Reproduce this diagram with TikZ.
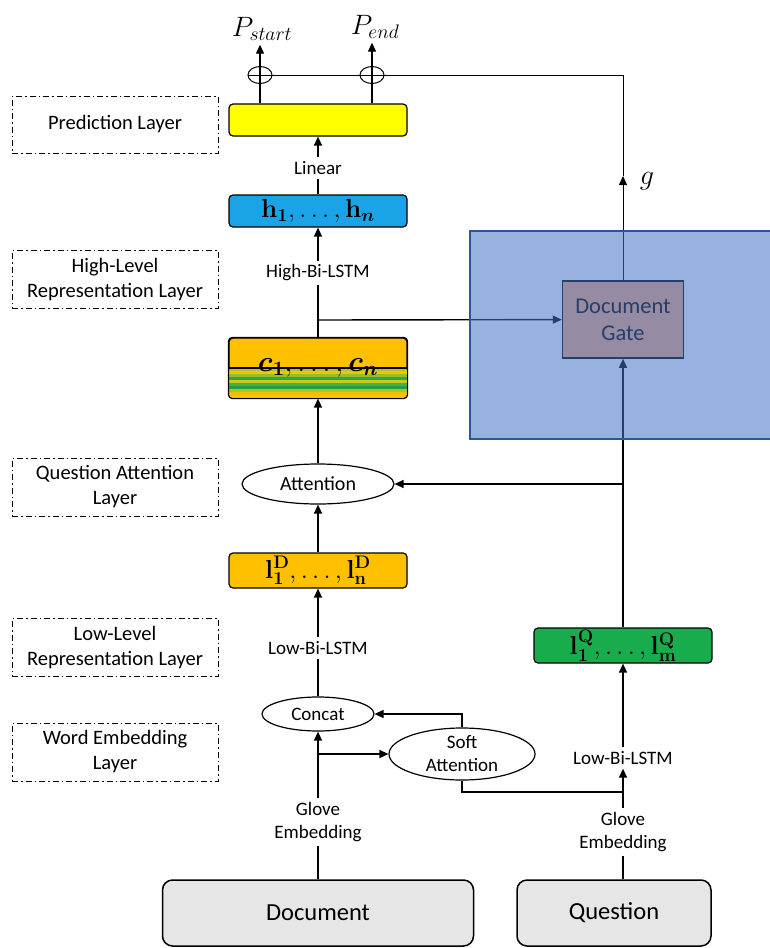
\documentclass[tikz,border=0pt]{standalone}
\usepackage{fix-cm}
\usepackage[no-math]{fontspec}
\setmainfont{Carlito}
\usepackage{amsmath}
\usepackage{tikz}
\usetikzlibrary{
    arrows.meta,
    shapes,
    calc,
    positioning
}
\DeclareMathAlphabet{\mathbfit}{OML}{cmm}{b}{it}
\definecolor{predyellow}{RGB}{255,255,0}
\definecolor{hblue}{RGB}{27,163,232}
\definecolor{lorange}{RGB}{255,192,0}
\definecolor{qgreen}{RGB}{24,172,76}
\definecolor{srcgray}{RGB}{231,230,230}
\definecolor{gateorange}{RGB}{249,171,122}
\definecolor{overlayblue}{RGB}{68,114,196}
\definecolor{overlayline}{RGB}{47,85,151}
\definecolor{sA}{RGB}{196,188,40}
\definecolor{sB}{RGB}{236,200,0}
\definecolor{sC}{RGB}{150,190,40}
\definecolor{sD}{RGB}{40,170,70}
\definecolor{sE}{RGB}{205,200,30}
\definecolor{sF}{RGB}{70,178,60}
\definecolor{sG}{RGB}{30,160,70}
\definecolor{sH}{RGB}{170,195,40}
\definecolor{sI}{RGB}{240,192,0}
\definecolor{sJ}{RGB}{255,192,0}

\begin{document}
\begin{tikzpicture}[x=1pt, y=-1pt, line width=1.4pt,
    >={Triangle[length=9pt,width=8pt]},
    every node/.style={font=\fontsize{19}{23}\selectfont, align=center},
    layer/.style={draw, line width=0.8pt, dash pattern=on 6pt off 3pt on 1.5pt off 3pt,
        minimum width=206, minimum height=58, font=\fontsize{20.5}{25}\selectfont},
    block/.style={draw, rounded corners=4, minimum width=178, line width=1.2pt,
        inner sep=0pt, font=\fontsize{26}{30}\selectfont},
    oval/.style={draw, ellipse, line width=1.2pt, inner sep=0pt},
    oplus/.style={draw, ellipse, minimum width=24, minimum height=17, line width=1pt, inner sep=0pt},
    source/.style={draw, rounded corners=10, fill=srcgray, minimum height=66, line width=1.5pt,
        font=\fontsize{24.5}{28}\selectfont},
    mathlbl/.style={font=\fontsize{28}{30}\selectfont}]
        \useasboundingbox (0,0) rectangle (769,948);
        % layer names
        \node[layer, minimum height=57] (predlay) at (115,124.5) {Prediction Layer};
        \node[layer] (highlay) at (115,279.5) {High-Level\\Representation Layer};
        \node[layer] (attlay) at (115,487) {Question Attention\\Layer};
        \node[layer] (lowlay) at (115,647.5) {Low-Level\\Representation Layer};
        \node[layer] (emblay) at (115,752) {Word Embedding\\Layer};
        % document column
        \node[block, fill=predyellow, minimum height=32] (pred) at (318,120) {};
        \node[block, fill=hblue, minimum height=32] (hid) at (318,211) {$\mathbf{h}_{\mathbf{1}}, \ldots, \mathbf{h}_{\mathbfit{n}}$};
        \node[block, fill=lorange, minimum height=60] (ctx) at (318,368) {};
        \begin{scope}
            \clip[rounded corners=4] (ctx.south west) rectangle (ctx.east);
            \foreach \col [count=\k from 0] in {sA,sB,sC,sD,sE,sF,sG,sH,sI,sJ}
                \fill[\col] (200,{368+3*\k}) rectangle (440,{371.2+3*\k});
        \end{scope}
        \draw[line width=1.2pt, rounded corners=4] (ctx.north west) rectangle (ctx.south east);
        \draw[line width=1.2pt] (ctx.west) -- (ctx.east);
        \node[font=\fontsize{29}{32}\selectfont] (ctxlbl) at (ctx) {$\mathbfit{c}_{\mathbf{1}}, \ldots, \mathbfit{c}_{\mathbfit{n}}$};
        \node[oval, minimum width=152, minimum height=40, font=\fontsize{20}{24}\selectfont] (att) at (318,484) {Attention};
        \node[block, fill=lorange, minimum height=35] (lowd) at (318,570.5) {$\mathbf{l}_{\mathbf{1}}^{\mathbf{D}}, \ldots, \mathbf{l}_{\mathbf{n}}^{\mathbf{D}}$};
        \node[oval, minimum width=112, minimum height=34] (concat) at (318,714) {Concat};
        \node[oval, minimum width=146, minimum height=52] (soft) at (462,754) {Soft\\Attention};
        \node[source, minimum width=311] (doc) at (318,913) {Document};
        % question column
        \node[block, fill=qgreen, minimum height=35] (lowq) at (623,645.5) {$\mathbf{l}_{\mathbf{1}}^{\mathbf{Q}}, \ldots, \mathbf{l}_{\mathbf{m}}^{\mathbf{Q}}$};
        \node[source, minimum width=194] (ques) at (614,913) {Question};
        \node[draw, fill=gateorange, line width=1.5pt, minimum width=121, minimum height=77,
            font=\fontsize{22.5}{27}\selectfont] (gate) at (623,319.5) {Document\\Gate};
        % outputs
        \node[oplus] (ostart) at (260,75) {};
        \node[oplus] (oend) at (372,75) {};
        \node[mathlbl] (pstart) at (262,29) {$P_{start}$};
        \node[mathlbl] (pend) at (375,27) {$P_{end}$};
        \node[mathlbl] (gout) at (647,181) {$g$};
        % labels on the connectors
        \node (linear) at (318,168) {Linear};
        \node (highbi) at (318,273) {High-Bi-LSTM};
        \node (lowbid) at (318,648) {Low-Bi-LSTM};
        \node (gloved) at (318,822) {Glove\\Embedding};
        \node (lowbiq) at (623,758) {Low-Bi-LSTM};
        \node (gloveq) at (623,832) {Glove\\Embedding};
        \coordinate (cjoin) at (318,320);
        \coordinate (djoin) at (318,754);
        \coordinate (qjoin) at (623,792);
        \coordinate (qatt) at (623,484);
        \coordinate (gtip) at (623,176);
        \coordinate (gtop) at (623,75);
        \draw (doc) -- (gloved);
        \draw[->] (gloved) -- (concat);
        \draw[->] (djoin) -- (soft);
        \draw[->] (soft.north) |- (concat.east);
        \draw (concat) -- (lowbid);
        \draw[->] (lowbid) -- (lowd);
        \draw[->] (lowd) -- (att);
        \draw[->] (att) -- (ctx);
        \draw (ctx) -- (highbi);
        \draw[->] (highbi) -- (hid);
        \draw[->] (cjoin) -- (gate);
        \draw (hid) -- (linear);
        \draw[->] (linear) -- (pred);
        \draw[->] (pred.north -| ostart) -- (ostart |- pstart.south);
        \draw[->] (pred.north -| oend) -- (oend |- pend.south);
        \draw[line width=1pt] (ostart.west) -- (gtop);
        \draw[->, line width=1pt] (gate) -- (gtip);
        \draw[line width=1pt] (gtip) -- (gtop);
        \draw (ques.north -| gloveq) -- (gloveq);
        \draw[->] (gloveq) -- (lowbiq);
        \draw (soft.south) |- (qjoin);
        \draw[->] (lowbiq) -- (lowq);
        \draw[->] (lowq) -- (gate);
        \draw[->] (qatt) -- (att);
        % gate region
        \draw[overlayline, line width=2pt, fill=overlayblue, fill opacity=0.55] (470,231) rectangle (772,439);
    \end{tikzpicture}
\end{document}
